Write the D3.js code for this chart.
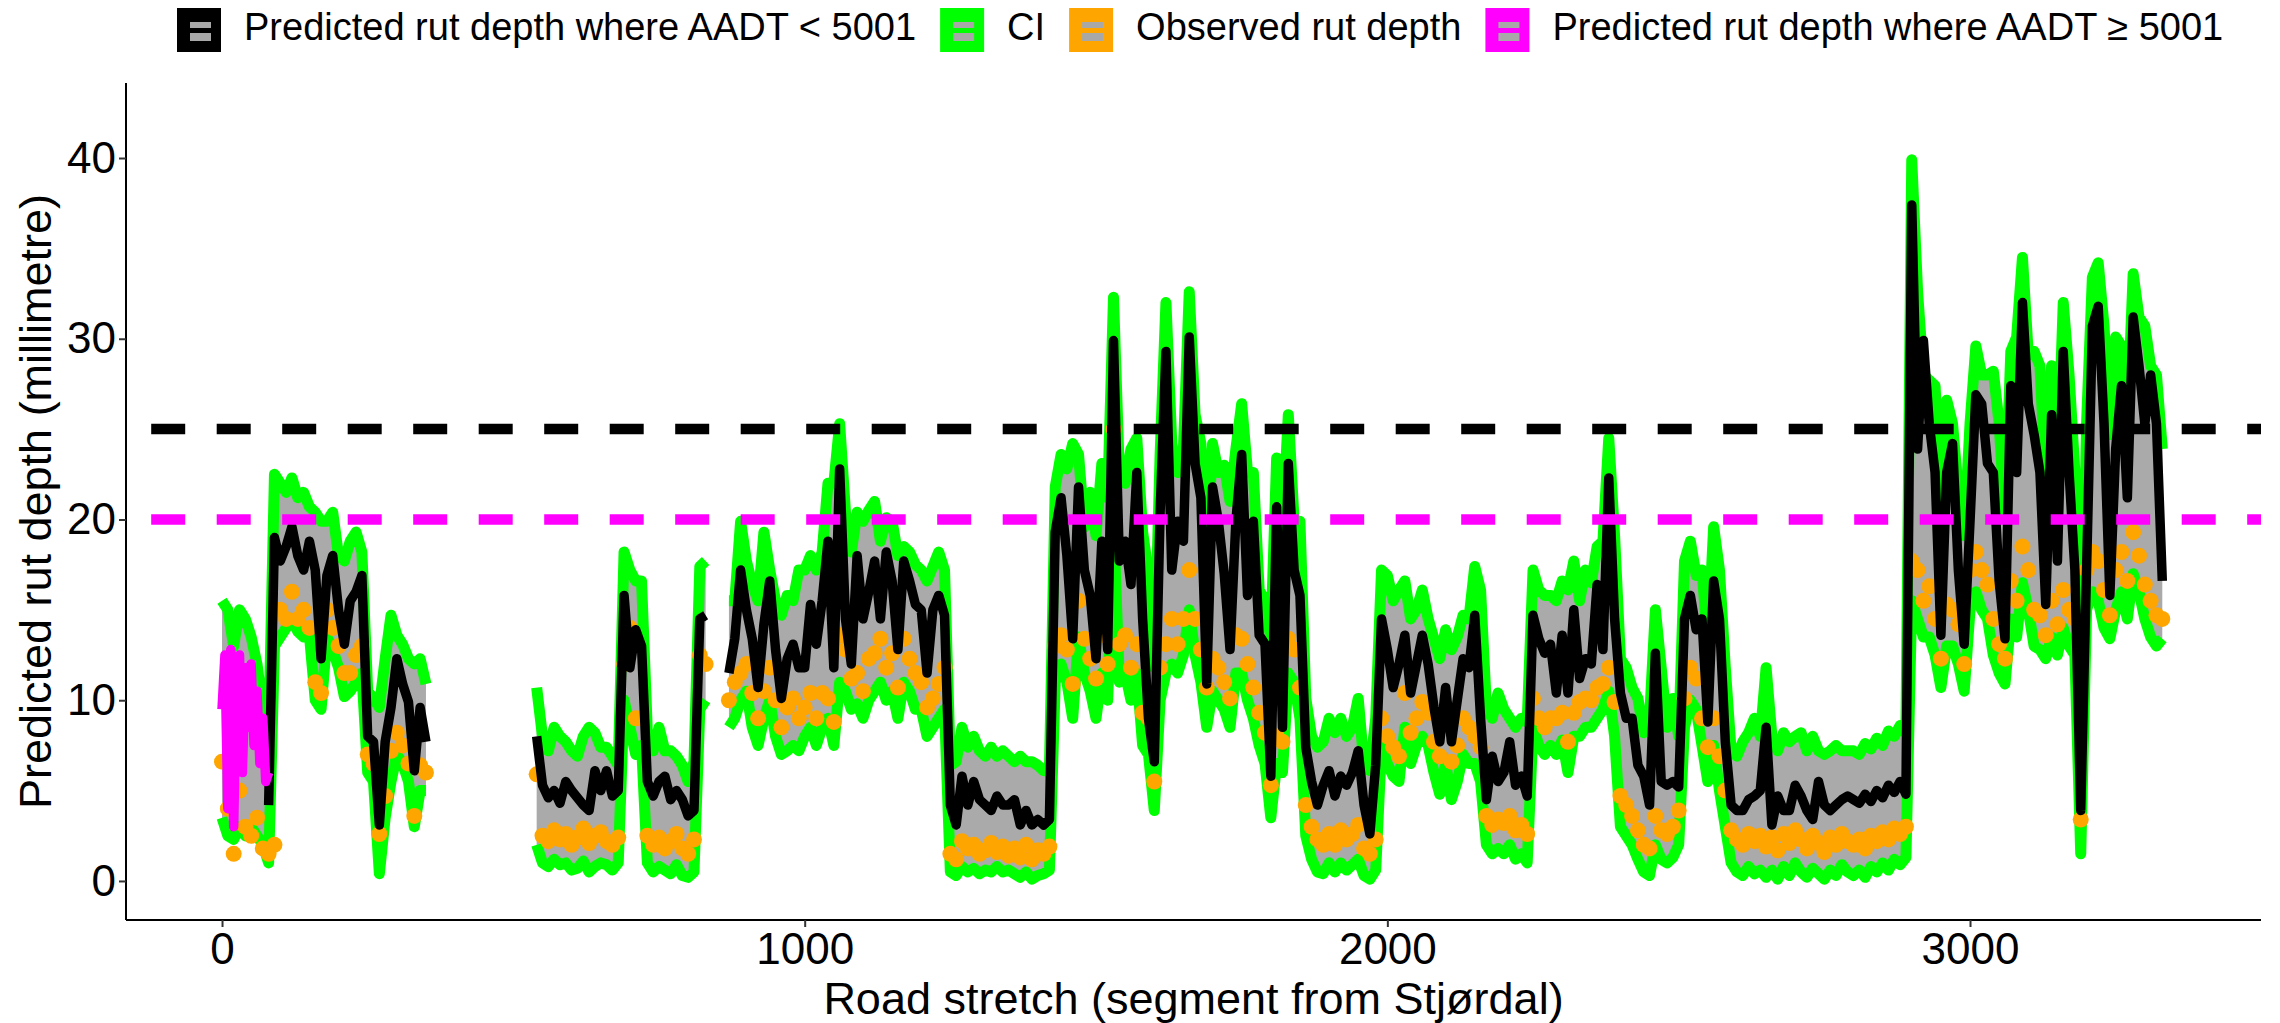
<!DOCTYPE html>
<html>
<head>
<meta charset="utf-8">
<script src="https://cdn.jsdelivr.net/npm/d3@7"></script>
<style>
  html, body { margin: 0; padding: 0; background: #ffffff; }
  svg { display: block; font-family: "Liberation Sans", Arial, sans-serif; }
</style>
</head>
<body>
<svg id="chart" width="2280" height="1023"></svg>
<script>
// segments are sampled every 10 along the road, null = no data
const segmentStep = 10;
const segments = d3.range(0, 3340, segmentStep);

// predicted rut depth where AADT < 5001 (black line)
const predicted = [
  null,null,null,null,null,null,null,null,4.2,19.0,
  17.7,18.5,19.6,18.0,17.2,18.8,17.2,12.3,16.9,18.0,
  15.0,13.1,15.5,16.0,16.9,8.0,7.7,3.1,7.7,9.6,
  12.3,10.9,9.9,6.1,9.6,7.7,null,null,null,null,
  null,null,null,null,null,null,null,null,null,null,
  null,null,null,null,8.0,5.3,4.6,5.0,4.3,5.5,
  5.0,4.6,4.2,3.9,6.1,5.0,6.1,4.7,5.0,15.8,
  11.8,13.9,13.0,5.5,4.7,5.5,5.8,4.5,5.0,4.5,
  3.6,3.9,14.5,14.7,null,null,null,11.5,13.4,17.2,
  15.0,13.4,10.7,14.2,16.6,12.8,10.1,12.3,13.1,11.8,
  11.8,15.3,13.1,15.5,18.8,11.8,22.8,14.5,12.0,18.0,
  14.5,16.0,17.7,14.5,18.2,16.6,12.8,17.7,16.6,15.3,
  15.0,11.5,15.0,15.8,14.7,4.2,3.1,5.8,4.2,5.5,
  4.5,4.2,3.9,4.7,4.2,4.2,4.5,3.1,3.9,3.1,
  3.4,3.1,3.4,19.3,21.2,18.0,13.4,21.8,17.2,15.8,
  12.3,18.8,12.8,29.9,17.7,18.8,16.4,22.6,14.5,9.0,
  6.6,20.4,29.3,17.2,19.9,18.8,30.1,23.1,21.2,10.9,
  21.8,19.9,17.0,12.8,19.9,23.6,15.8,19.9,13.6,13.1,
  5.8,20.7,8.5,23.1,17.2,15.8,7.4,5.5,4.2,5.3,
  6.1,4.7,5.8,5.3,6.0,7.2,4.2,2.6,6.4,14.5,
  12.8,10.7,12.0,13.6,10.4,12.0,13.6,12.0,9.6,7.7,
  10.7,7.7,10.0,12.3,11.8,14.7,9.0,4.5,6.9,5.5,
  6.0,7.7,5.3,5.8,4.7,14.7,13.4,12.6,13.1,10.4,
  13.6,10.4,15.0,11.2,12.3,12.0,16.4,12.8,22.3,14.5,
  10.4,9.0,9.0,6.4,5.8,4.2,12.6,5.5,5.3,5.5,
  5.2,14.5,15.8,13.9,14.5,8.8,16.6,14.5,7.7,4.2,
  3.9,3.9,4.5,4.7,5.0,8.5,3.1,4.7,3.9,3.9,
  5.3,4.7,3.9,3.4,5.5,4.2,3.9,4.2,4.5,4.7,
  4.5,4.3,4.8,4.4,5.0,4.6,5.3,4.9,5.5,4.8,
  37.4,23.9,29.9,25.3,22.6,13.6,22.6,24.2,17.2,13.1,
  19.9,26.9,26.4,23.1,22.6,16.6,13.4,27.4,22.6,32.0,
  26.4,24.7,22.6,15.3,25.8,17.7,29.3,22.6,17.2,3.9,
  17.2,30.7,31.8,25.3,15.8,23.9,27.4,21.2,31.2,28.5,
  25.3,28.0,25.3,16.6
];

// upper confidence limit (green)
const ciUpper = [
  15.5,15.0,13.0,15.0,14.5,13.5,12.0,9.5,8.0,22.5,
  22.0,21.5,22.3,21.2,21.5,20.7,20.4,19.9,19.9,20.4,
  18.0,17.7,18.8,19.3,18.2,10.5,10.1,9.6,12.3,14.7,
  13.6,13.1,12.3,12.0,12.3,10.9,null,null,null,null,
  null,null,null,null,null,null,null,null,null,null,
  null,null,null,null,10.7,8.0,7.2,8.5,8.0,7.7,
  7.2,6.9,8.0,8.5,8.2,7.4,7.4,6.9,6.4,18.2,
  17.2,16.6,16.6,8.2,7.2,8.5,7.2,7.2,6.9,6.4,
  5.5,6.6,17.4,17.7,null,null,null,15.5,15.5,19.9,
  17.7,16.4,15.5,19.3,17.2,15.5,14.7,15.8,15.5,17.2,
  17.2,18.0,17.2,18.2,22.0,22.0,25.3,20.4,18.2,20.4,
  19.9,20.5,21.0,18.8,20.1,19.9,18.0,18.5,18.2,17.5,
  17.2,16.6,17.4,18.2,17.2,6.4,6.6,8.5,7.4,8.0,
  7.2,6.9,7.4,6.9,7.2,6.9,6.6,6.9,6.6,6.6,
  6.4,6.1,6.1,21.8,23.6,22.8,24.2,23.6,19.6,21.5,
  19.1,23.1,21.2,32.3,22.6,22.0,23.9,24.5,19.3,17.0,
  11.8,23.6,32.0,24.2,22.6,23.9,32.6,25.8,24.2,18.0,
  24.2,22.6,23.0,21.0,23.9,26.4,22.6,22.6,16.1,15.5,
  13.4,23.4,19.3,25.8,19.9,19.9,10.1,8.0,7.4,7.7,
  9.0,8.2,9.0,8.0,8.5,10.1,6.4,6.1,9.0,17.2,
  16.9,15.5,16.1,16.6,14.5,15.0,16.1,14.5,13.4,12.3,
  13.9,12.8,13.5,14.7,14.5,17.4,16.1,9.6,9.0,10.4,
  9.5,9.0,8.5,9.0,8.8,17.2,16.1,15.8,15.8,15.5,
  16.6,16.1,17.7,15.5,17.2,16.5,18.5,18.8,24.5,19.1,
  12.3,11.8,10.7,10.1,8.2,9.0,15.0,11.8,8.5,10.1,
  8.0,17.7,18.8,16.9,17.2,13.1,19.6,17.2,11.8,7.2,
  6.9,7.7,8.2,9.0,8.0,11.8,8.0,7.2,8.2,7.7,
  8.0,8.2,7.2,8.0,7.2,7.0,7.2,7.5,7.2,7.2,
  7.2,7.0,7.6,7.3,7.9,7.5,8.3,8.0,8.6,8.2,
  39.9,32.6,28.0,27.7,27.4,21.2,26.6,25.3,21.5,19.1,
  25.3,29.6,28.0,28.0,28.2,25.3,20.0,29.3,30.1,34.5,
  29.1,29.3,28.5,22.0,28.5,22.6,32.0,28.0,22.6,7.7,
  25.3,33.4,34.2,30.7,24.7,30.1,29.6,25.5,33.6,31.2,
  30.7,28.5,28.0,23.9
];

// lower confidence limit (green)
const ciLower = [
  3.5,2.5,2.3,3.0,2.5,3.0,2.5,2.0,1.0,13.0,
  13.5,14.0,14.5,13.8,13.5,13.6,10.0,9.5,13.5,12.8,
  11.8,10.2,10.5,11.0,11.5,6.0,5.5,0.4,3.5,5.5,
  7.0,6.5,5.5,3.0,5.0,5.0,null,null,null,null,
  null,null,null,null,null,null,null,null,null,null,
  null,null,null,null,2.0,1.0,0.8,1.2,0.9,1.0,
  0.6,0.7,1.1,0.5,0.8,1.0,0.9,0.6,1.0,10.0,
  8.5,7.0,7.5,1.0,0.5,0.8,0.6,0.4,0.9,0.3,
  0.2,0.5,9.5,10.0,null,null,null,8.5,9.0,10.0,
  10.5,8.5,7.5,9.0,10.0,8.0,7.0,7.2,7.5,7.2,
  8.0,8.5,7.5,8.5,9.0,7.5,11.0,10.5,9.5,9.8,
  9.0,10.0,10.5,11.0,10.0,10.5,9.0,11.0,10.5,9.5,
  9.5,8.0,8.5,9.0,9.5,0.5,0.3,0.8,0.5,0.7,
  0.4,0.6,0.5,0.8,0.5,0.6,0.4,0.2,0.5,0.1,
  0.3,0.4,0.6,11.0,12.0,11.0,9.0,13.5,11.5,10.5,
  9.0,11.5,10.0,20.0,11.0,11.5,10.0,11.5,7.5,7.0,
  3.9,10.0,11.5,12.0,11.5,12.5,15.0,12.5,11.0,8.5,
  10.5,10.0,9.5,8.5,11.5,11.5,10.0,9.0,7.5,6.5,
  3.5,6.5,6.0,11.5,11.0,9.0,2.5,1.2,0.5,0.4,
  1.0,0.5,1.0,0.6,0.9,1.2,0.3,0.1,0.6,7.5,
  6.5,5.8,5.5,8.5,6.5,7.5,8.0,7.5,6.0,4.8,
  6.5,4.5,5.5,7.0,6.5,6.5,5.5,2.0,1.5,1.8,
  1.5,2.0,1.2,1.5,1.0,8.5,7.5,7.0,7.5,7.0,
  7.8,6.0,8.0,8.0,8.5,8.5,9.0,9.5,10.5,8.0,
  3.0,2.5,2.0,1.2,0.5,0.3,2.0,1.2,1.0,1.3,
  2.0,8.5,10.0,9.5,7.5,5.5,7.5,5.0,3.0,1.0,
  0.5,0.3,0.8,0.4,0.6,0.2,0.6,0.1,0.8,0.3,
  1.0,0.5,0.2,0.7,0.4,0.1,0.6,0.3,0.9,0.5,
  0.3,0.6,0.2,0.8,0.5,1.0,0.6,1.2,0.9,1.3,
  15.5,14.5,13.5,13.5,12.5,10.7,13.0,13.0,12.0,10.5,
  15.0,16.0,15.0,14.5,12.5,11.5,10.9,14.5,13.5,16.5,
  15.0,13.0,12.8,12.3,13.5,12.5,14.0,13.0,12.5,1.5,
  15.0,16.0,15.5,14.0,13.4,15.0,16.0,14.5,17.0,16.0,
  14.5,13.5,13.0,13.4
];

// observed rut depth (orange points)
const observed = [
  6.6,4.0,1.5,5.0,3.0,2.5,3.5,1.8,1.5,2.0,
  15.0,14.5,16.0,14.5,15.0,14.0,11.0,10.4,15.0,14.0,
  13.0,11.5,11.5,12.5,13.0,7.0,6.5,2.6,4.7,7.2,
  8.2,7.5,6.5,3.6,6.4,6.0,null,null,null,null,
  null,null,null,null,null,null,null,null,null,null,
  null,null,null,null,5.9,2.5,2.2,2.8,2.3,2.6,
  2.0,2.4,2.9,2.1,2.5,2.7,2.2,2.0,2.4,12.0,
  14.0,9.0,9.0,2.5,2.0,2.4,1.8,2.2,2.6,1.8,
  1.5,2.3,12.5,12.0,null,null,null,10.0,11.0,11.5,
  12.0,10.4,9.0,10.5,11.8,10.0,8.5,9.6,10.1,9.0,
  9.6,10.4,9.0,10.4,10.1,8.8,13.6,12.8,11.2,11.5,
  10.5,12.3,12.6,13.4,11.8,12.6,10.7,13.4,12.3,11.5,
  11.0,9.6,10.1,10.9,11.8,1.5,1.2,2.2,1.8,2.0,
  1.5,1.7,2.1,1.6,1.9,1.4,1.8,1.3,2.0,1.2,
  1.7,1.5,1.9,13.0,13.6,12.8,10.9,15.5,13.4,12.3,
  11.2,13.6,12.0,25.0,13.1,13.6,11.8,13.1,9.3,9.0,
  5.5,11.8,13.1,14.5,13.1,14.5,17.2,14.5,12.8,10.7,
  12.3,11.8,11.0,10.1,13.6,13.4,12.0,10.7,9.3,8.2,
  5.3,8.0,7.7,13.4,12.8,10.7,4.2,3.0,2.3,2.0,
  2.6,2.0,2.8,2.3,2.6,3.1,1.8,1.5,2.3,9.0,
  8.0,7.4,6.9,10.4,8.2,9.0,9.9,9.3,7.7,6.9,
  8.5,6.6,7.5,9.0,8.5,8.0,7.4,3.6,3.1,3.4,
  3.2,3.6,2.8,3.1,2.6,10.1,9.0,8.5,9.0,9.0,
  9.3,7.7,9.3,9.9,10.1,10.0,10.7,10.9,11.8,9.9,
  4.7,4.2,3.6,2.8,2.0,1.8,3.6,2.8,2.6,3.0,
  3.9,10.1,11.8,11.2,9.0,7.4,9.0,6.9,5.0,2.8,
  2.3,2.0,2.6,2.2,2.5,1.9,2.4,1.7,2.6,2.1,
  2.8,2.3,1.8,2.5,2.1,1.6,2.4,2.0,2.6,2.2,
  2.0,2.3,1.8,2.5,2.2,2.7,2.3,2.9,2.6,3.0,
  17.7,17.2,15.5,16.3,14.5,12.3,15.3,15.0,14.2,12.0,
  17.2,18.2,17.2,16.4,14.5,13.1,12.3,16.6,15.5,18.5,
  17.2,15.0,14.7,13.6,15.5,14.2,16.1,15.0,14.5,3.4,
  17.2,18.2,17.7,16.1,14.7,17.2,18.2,16.6,19.3,18.0,
  16.4,15.5,14.7,14.5
];

// predicted rut depth where AADT >= 5001 (magenta, first stretch only)
const segmentsHigh = [0,5,10,15,20,25,30,35,40,45,50,55,60,65,70,75,80];
const predictedHigh = [9.5,12.5,4.0,12.8,3.0,11.5,12.5,6.0,11.8,8.5,12.0,7.5,10.5,6.5,9.0,5.5,6.0];

// rut depth limits
const limitValues = [25, 20];
const limitColors = ["#000000", "#ff00ff"];

const yTicks = [0, 10, 20, 30, 40];
const xTicks = [0, 1000, 2000, 3000];

const legendLabels = [
  "Predicted rut depth where AADT < 5001",
  "CI",
  "Observed rut depth",
  "Predicted rut depth where AADT \u2265 5001"
];
const legendColors = ["#000000", "#00ff00", "#ffa500", "#ff00ff"];

const svg = d3.select("#chart");
const panel = { left: 126, right: 2261, top: 83, bottom: 920 };

const x = d3.scaleLinear().domain([-164.8, 3499.4]).range([panel.left, panel.right]);
const y = d3.scaleLinear().domain([-2.16, 44.15]).range([panel.bottom, panel.top]);

const rows = segments.map((s, i) => ({
	seg: s, pred: predicted[i], lo: ciLower[i], hi: ciUpper[i], obs: observed[i]
}));
const rowsHigh = segmentsHigh.map((s, i) => ({ seg: s, v: predictedHigh[i] }));

svg.append("clipPath").attr("id", "panelClip")
	.append("rect")
	.attr("x", panel.left).attr("y", panel.top)
	.attr("width", panel.right - panel.left).attr("height", panel.bottom - panel.top);

const g = svg.append("g").attr("clip-path", "url(#panelClip)");

// CI ribbon
const ribbon = d3.area()
	.defined(d => d.lo != null && d.hi != null)
	.x(d => x(d.seg)).y0(d => y(d.lo)).y1(d => y(d.hi));
g.append("path").datum(rows).attr("d", ribbon).attr("fill", "#aaaaaa");

// CI lines
["lo", "hi"].forEach(key => {
	const line = d3.line().defined(d => d[key] != null).x(d => x(d.seg)).y(d => y(d[key]));
	g.append("path").datum(rows).attr("d", line)
		.attr("fill", "none").attr("stroke", "#00ff00")
		.attr("stroke-width", 11).attr("stroke-linejoin", "round");
});

// observed points
g.append("g").selectAll("circle")
	.data(rows.filter(d => d.obs != null))
	.join("circle")
	.attr("cx", d => x(d.seg)).attr("cy", d => y(d.obs)).attr("r", 8)
	.attr("fill", "#ffa500");

// predicted lines
const predLine = d3.line().defined(d => d.pred != null).x(d => x(d.seg)).y(d => y(d.pred));
g.append("path").datum(rows).attr("d", predLine)
	.attr("fill", "none").attr("stroke", "#000000")
	.attr("stroke-width", 9.5).attr("stroke-linejoin", "round");

const highLine = d3.line().x(d => x(d.seg)).y(d => y(d.v));
g.append("path").datum(rowsHigh).attr("d", highLine)
	.attr("fill", "none").attr("stroke", "#ff00ff")
	.attr("stroke-width", 9.5).attr("stroke-linejoin", "round");

// dashed limit lines
g.selectAll("line.limit")
	.data(limitValues)
	.join("line")
	.attr("class", "limit")
	.attr("x1", panel.left).attr("x2", panel.right)
	.attr("y1", d => y(d)).attr("y2", d => y(d))
	.attr("stroke", (d, i) => limitColors[i])
	.attr("stroke-width", 10.5)
	.attr("stroke-dasharray", "34 31.5")
	.attr("stroke-dashoffset", 40.3);

// axes
const xAxis = svg.append("g").attr("transform", `translate(0,${panel.bottom})`)
	.call(d3.axisBottom(x).tickValues(xTicks).tickSize(7).tickPadding(6).tickFormat(d3.format("d")));
const yAxis = svg.append("g").attr("transform", `translate(${panel.left},0)`)
	.call(d3.axisLeft(y).tickValues(yTicks).tickSize(7).tickPadding(3));

[xAxis, yAxis].forEach(ax => {
	ax.select(".domain").attr("stroke", "#000").attr("stroke-width", 2);
	ax.selectAll(".tick line").attr("stroke", "#333").attr("stroke-width", 2);
	ax.selectAll(".tick text").attr("fill", "#000")
		.style("font-family", '"Liberation Sans", Arial, sans-serif').style("font-size", "44px");
});
xAxis.select(".domain").attr("d", `M${panel.left},0H${panel.right}`);
yAxis.select(".domain").attr("d", `M0,${panel.top}V${panel.bottom}`);

// axis titles
svg.append("text")
	.attr("x", (panel.left + panel.right) / 2).attr("y", 1014)
	.attr("text-anchor", "middle").attr("font-size", 45).attr("fill", "#000")
	.text("Road stretch (segment from Stjørdal)");

svg.append("text")
	.attr("transform", `translate(51,${(panel.top + panel.bottom) / 2}) rotate(-90)`)
	.attr("text-anchor", "middle").attr("font-size", 45).attr("fill", "#000")
	.text("Predicted rut depth (millimetre)");

// legend
const legend = svg.append("g");
let lx = 177;
legendLabels.forEach((label, i) => {
	const item = legend.append("g").attr("transform", `translate(${lx},8)`);
	item.append("rect").attr("width", 44).attr("height", 44).attr("fill", legendColors[i]);
	item.append("rect").attr("x", 13).attr("y", 14).attr("width", 21).attr("height", 6).attr("fill", "#a8a8a8");
	item.append("rect").attr("x", 13).attr("y", 25).attr("width", 21).attr("height", 8).attr("fill", "#a8a8a8");
	const t = item.append("text").attr("x", 67).attr("y", 32)
		.attr("font-size", 38).attr("fill", "#000").text(label);
	lx += 67 + t.node().getComputedTextLength() + 24;
});
</script>
</body>
</html>
